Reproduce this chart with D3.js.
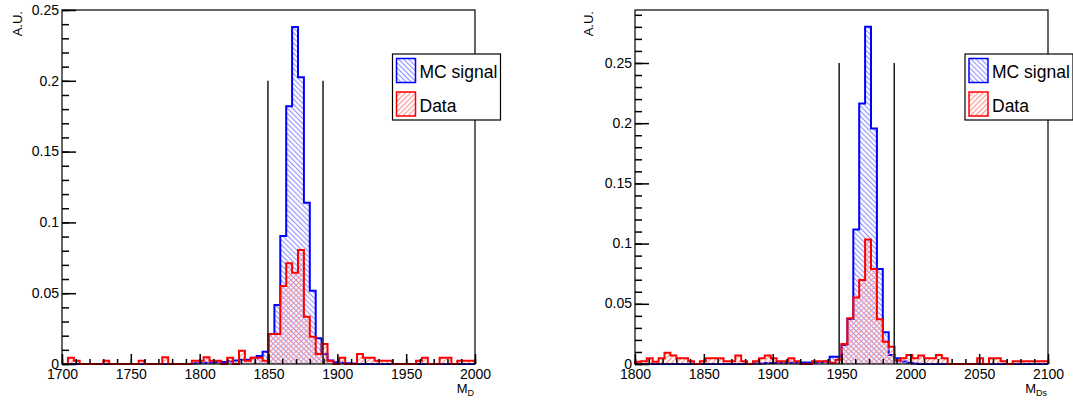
<!DOCTYPE html>
<html><head><meta charset="utf-8">
<script src="https://cdn.jsdelivr.net/npm/d3@7"></script>
<style>
body{margin:0;background:#fff;}
svg{display:block;font-family:"Liberation Sans",Arial,Helvetica,sans-serif;}
</style></head>
<body><svg id="c" width="1073" height="403"></svg>
<script>
// ---------- data ----------
const nBins = 70;
const xRangeD = [1700, 2000];
const xRangeDs = [1800, 2100];
const xTicksD = [1700, 1750, 1800, 1850, 1900, 1950, 2000];
const xTicksDs = [1800, 1850, 1900, 1950, 2000, 2050, 2100];
const yTicksD = [0, 0.05, 0.1, 0.15, 0.2, 0.25];
const yTicksDs = [0, 0.05, 0.1, 0.15, 0.2, 0.25];
const yMaxD = 0.25;
const yMaxDs = 0.294;
const cutD = [1849.6, 1889.6];
const cutDs = [1948.3, 1988.3];
const cutHeightD = 0.2;
const cutHeightDs = 0.25;

const mcD = [0,0,0,0,0,0,0,0,0,0, 0,0,0,0,0,0,0,0,0,0,
  0,0,0.0005,0.0008,0.0008,0.001,0.0012,0.0015,0.002,0.0025,
  0.003,0.003,0.0045,0.0056,0.0087,0.0212,0.0417,0.0904,0.182,0.238,
  0.2025,0.1139,0.0518,0.0181,0.0071,0.0025,0.0012,0.0008,0.0005,0.0003,
  0,0,0,0,0,0,0,0,0,0, 0,0,0,0,0,0,0,0,0,0];
const dataD = [0,0.0045,0.0023,0,0,0,0,0.0023,0,0,
  0,0,0,0.0023,0,0,0,0.0047,0,0,
  0,0,0.0023,0.0023,0.0047,0.0023,0.0023,0,0.0045,0,
  0.0094,0.0023,0.0045,0.0045,0.0023,0.0212,0.0212,0.0551,0.0711,0.0645,
  0.0805,0.0334,0.0193,0.0071,0.0141,0.0023,0,0.0045,0,0,
  0.0071,0.0045,0.0045,0.0023,0.0023,0.0023,0,0,0,0,
  0.0023,0.0045,0,0,0.0045,0.0045,0,0.0023,0.0023,0.0023];
const mcDs = [0,0,0,0,0,0,0,0,0,0, 0,0,0,0,0,0,0,0,0,0,
  0.0005,0.0005,0.0008,0.0008,0.001,0.001,0.001,0.001,0.0012,0.0012,
  0.0015,0.0015,0.002,0.006,0.006,0.0158,0.0373,0.1118,0.2163,0.28,
  0.1956,0.0788,0.0263,0.0075,0.0047,0.002,0.001,0.0005,0,0,
  0,0,0,0,0,0,0,0,0,0, 0,0,0,0,0,0,0,0,0,0];
const dataDs = [0.0018,0.0023,0.0047,0.0018,0.0047,0.0094,0.0071,0.0047,0.0047,0.0023,
  0,0.0023,0.0047,0.0047,0.0047,0.0023,0.0023,0.0071,0.0023,0,
  0.0023,0.0047,0.0071,0.0047,0.0023,0.0023,0.0047,0.0023,0,0,
  0.0023,0.0023,0.0023,0.001,0.0035,0.0166,0.038,0.0553,0.0697,0.1035,
  0.0788,0.0371,0.0185,0.0144,0.003,0.0047,0.0075,0.0047,0.0071,0.0047,
  0.0047,0.0075,0.0047,0,0,0,0,0,0.0047,0,
  0.0047,0.0047,0.0023,0,0.0023,0.0023,0.0023,0.0023,0.0023,0.0023];
const legendLabels = ["MC signal", "Data"];
const yTitle = "A.U.";

// ---------- drawing ----------
const FONT = '"Liberation Sans",Arial,Helvetica,sans-serif';
const svg = d3.select("#c");
const defs = svg.append("defs");
function hatch(id, color, angle) {
  const p = defs.append("pattern").attr("id", id).attr("patternUnits", "userSpaceOnUse")
    .attr("width", 3.6).attr("height", 3.6).attr("patternTransform", `rotate(${angle})`);
  p.append("line").attr("x1", 0.6).attr("y1", 0).attr("x2", 0.6).attr("y2", 3.6)
    .attr("stroke", color).attr("stroke-width", 1.1);
}
hatch("hb", "#8f8fff", -45);
hatch("hr", "#ff8f8f", 45);

const panels = [
  {x0: 62, x1: 475, xr: xRangeD, xt: xTicksD, yt: yTicksD, ymax: yMaxD, mc: mcD, data: dataD,
   cut: cutD, cutH: cutHeightD, titleX: 21.5, legX: 392.5, sub: "D"},
  {x0: 635, x1: 1048, xr: xRangeDs, xt: xTicksDs, yt: yTicksDs, ymax: yMaxDs, mc: mcDs, data: dataDs,
   cut: cutDs, cutH: cutHeightDs, titleX: 592.5, legX: 965, sub: "Ds"}
];
const yTop = 10, yBot = 364;
const fmt = v => v === 0 ? "0" : String(+v.toFixed(3));

panels.forEach(P => {
  const x = d3.scaleLinear().domain(P.xr).range([P.x0, P.x1]);
  const y = d3.scaleLinear().domain([0, P.ymax]).range([yBot, yTop]);
  const bw = (P.xr[1] - P.xr[0]) / nBins;
  const g = svg.append("g");

  function histPts(vals) {
    const pts = [[P.xr[0], 0]];
    vals.forEach((v, i) => {
      pts.push([P.xr[0] + i * bw, v]);
      pts.push([P.xr[0] + (i + 1) * bw, v]);
    });
    pts.push([P.xr[1], 0]);
    return pts;
  }
  const line = d3.line().x(d => x(d[0])).y(d => y(d[1]));

  g.append("path").attr("d", line(histPts(P.mc)) + "Z").attr("fill", "url(#hb)").attr("stroke", "none");
  g.append("path").attr("d", line(histPts(P.mc))).attr("fill", "none").attr("stroke", "#0000ff").attr("stroke-width", 2);
  g.append("path").attr("d", line(histPts(P.data)) + "Z").attr("fill", "url(#hr)").attr("stroke", "none");
  g.append("path").attr("d", line(histPts(P.data))).attr("fill", "none").attr("stroke", "#ff0000").attr("stroke-width", 2);

  P.cut.forEach(c => {
    g.append("line").attr("x1", x(c)).attr("x2", x(c)).attr("y1", y(0)).attr("y2", y(P.cutH))
      .attr("stroke", "#1a1a1a").attr("stroke-width", 1.5);
  });

  // frame
  g.append("rect").attr("x", P.x0).attr("y", yTop).attr("width", P.x1 - P.x0).attr("height", yBot - yTop)
    .attr("fill", "none").attr("stroke", "#000").attr("stroke-width", 1.2);

  // x axis
  const xMinor = d3.range(P.xr[0], P.xr[1] + 0.1, 10);
  const xa = g.append("g").attr("transform", `translate(0,${yBot})`)
    .call(d3.axisBottom(x).tickValues(P.xt).tickSize(-10).tickPadding(5).tickFormat(d3.format("d")));
  const xm = g.append("g").attr("transform", `translate(0,${yBot})`)
    .call(d3.axisBottom(x).tickValues(xMinor).tickSize(-5).tickFormat(""));
  // y axis
  const yMinor = d3.range(0, P.ymax + 1e-9, 0.01);
  const ya = g.append("g").attr("transform", `translate(${P.x0},0)`)
    .call(d3.axisLeft(y).tickValues(P.yt).tickSize(-14).tickPadding(3).tickFormat(fmt));
  const ym = g.append("g").attr("transform", `translate(${P.x0},0)`)
    .call(d3.axisLeft(y).tickValues(yMinor).tickSize(-7).tickFormat(""));
  [xa, xm, ya, ym].forEach(a => {
    a.attr("font-family", FONT).attr("font-size", 14);
    a.select(".domain").remove();
    a.selectAll("line").attr("stroke", "#000").attr("stroke-width", 1.5);
    a.selectAll("text").attr("fill", "#000");
  });
  ya.selectAll("text").attr("dy", "0.3em");

  // axis titles
  g.append("text").attr("transform", `translate(${P.titleX},${yTop + 1}) rotate(-90)`)
    .attr("text-anchor", "end").attr("font-size", 13).text(yTitle);
  const t = g.append("text").attr("x", P.x1 - 1).attr("y", 393).attr("text-anchor", "end").attr("font-size", 13);
  t.append("tspan").text("M");
  t.append("tspan").attr("font-size", 9).attr("dy", 3).text(P.sub);

  // legend
  const L = g.append("g").attr("transform", `translate(${P.legX},54)`);
  L.append("rect").attr("width", 108).attr("height", 66).attr("fill", "#fff").attr("stroke", "#000").attr("stroke-width", 1.2);
  const items = [{fill: "url(#hb)", stroke: "#0000ff", yy: 4.5}, {fill: "url(#hr)", stroke: "#ff0000", yy: 38}];
  items.forEach((it, i) => {
    L.append("rect").attr("x", 4).attr("y", it.yy).attr("width", 19).attr("height", 24)
      .attr("fill", it.fill).attr("stroke", it.stroke).attr("stroke-width", 1.5);
    L.append("text").attr("x", 27).attr("y", it.yy + 19.8).attr("font-size", 17.5).text(legendLabels[i]);
  });
});
</script></body></html>
